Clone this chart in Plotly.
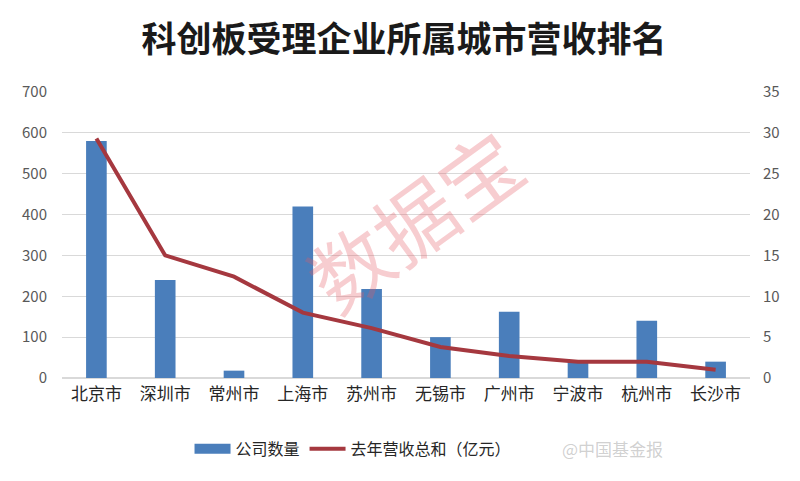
import plotly.graph_objects as go

cities = ["北京市", "深圳市", "常州市", "上海市", "苏州市", "无锡市", "广州市", "宁波市", "杭州市", "长沙市"]
company_count = [580, 240, 18, 420, 218, 100, 162, 40, 140, 40]
revenue_total = [29.3, 15.0, 12.4, 8.0, 6.1, 3.8, 2.7, 2.0, 2.0, 1.0]
left_ticks = [0, 100, 200, 300, 400, 500, 600, 700]
right_ticks = [0, 5, 10, 15, 20, 25, 30, 35]

font_cn = "Noto Sans CJK SC"
bar_color = "#4A7EBB"

fig = go.Figure()
fig.add_trace(go.Bar(
    x=cities, y=company_count, name="公司数量",
    marker=dict(color=bar_color, line=dict(width=0)),
    yaxis="y", showlegend=False, legendgroup="count",
))
# legend-only entry drawn as a wide rectangle, like the original legend key
fig.add_trace(go.Scatter(
    x=[None], y=[None], name="公司数量", mode="lines",
    line=dict(color=bar_color, width=11), legendgroup="count",
))
fig.add_trace(go.Scatter(
    x=cities, y=revenue_total, name="去年营收总和（亿元）",
    mode="lines", line=dict(color="#A5383F", width=4),
    yaxis="y2",
))

fig.update_layout(
    width=792, height=473,
    paper_bgcolor="white", plot_bgcolor="white",
    margin=dict(l=54, r=50, t=84, b=103),
    bargap=0.7,
    font=dict(family=font_cn, color="#404040"),
    title=dict(text="<b>科创板受理企业所属城市营收排名</b>", x=0.5, xanchor="center",
               y=0.932, yanchor="middle",
               font=dict(family=font_cn, size=35, color="#1a1a1a")),
    xaxis=dict(showgrid=False, showline=False, ticks="",
               tickfont=dict(size=17, color="#262626"), ticklabelstandoff=4),
    yaxis=dict(range=[0, 700], tickvals=left_ticks, showgrid=True, gridcolor="#d9d9d9",
               gridwidth=1, zeroline=True, zerolinecolor="#d9d9d9", showline=False,
               tickfont=dict(size=15, color="#595959"), ticklabelstandoff=14),
    yaxis2=dict(range=[0, 35], tickvals=right_ticks, overlaying="y", side="right",
                showgrid=False, zeroline=False, showline=False,
                tickfont=dict(size=15, color="#595959"), ticklabelstandoff=12),
    legend=dict(orientation="h", x=0.423, xanchor="center", y=-0.248, yanchor="middle",
                font=dict(size=16, color="#262626"), bgcolor="rgba(0,0,0,0)",
                traceorder="normal", itemwidth=36),
    showlegend=True,
)

fig.add_annotation(text="数据宝", xref="paper", yref="paper", x=0.51, y=0.56,
                   showarrow=False, textangle=-36,
                   font=dict(family=font_cn, size=80, color="rgba(230,90,100,0.3)"))
fig.add_annotation(text="@中国基金报", xref="paper", yref="paper", x=0.80, y=-0.248,
                   xanchor="center", yanchor="middle", showarrow=False,
                   font=dict(family=font_cn, size=17, color="rgba(150,150,150,0.45)"))

fig.write_html("out.html")
